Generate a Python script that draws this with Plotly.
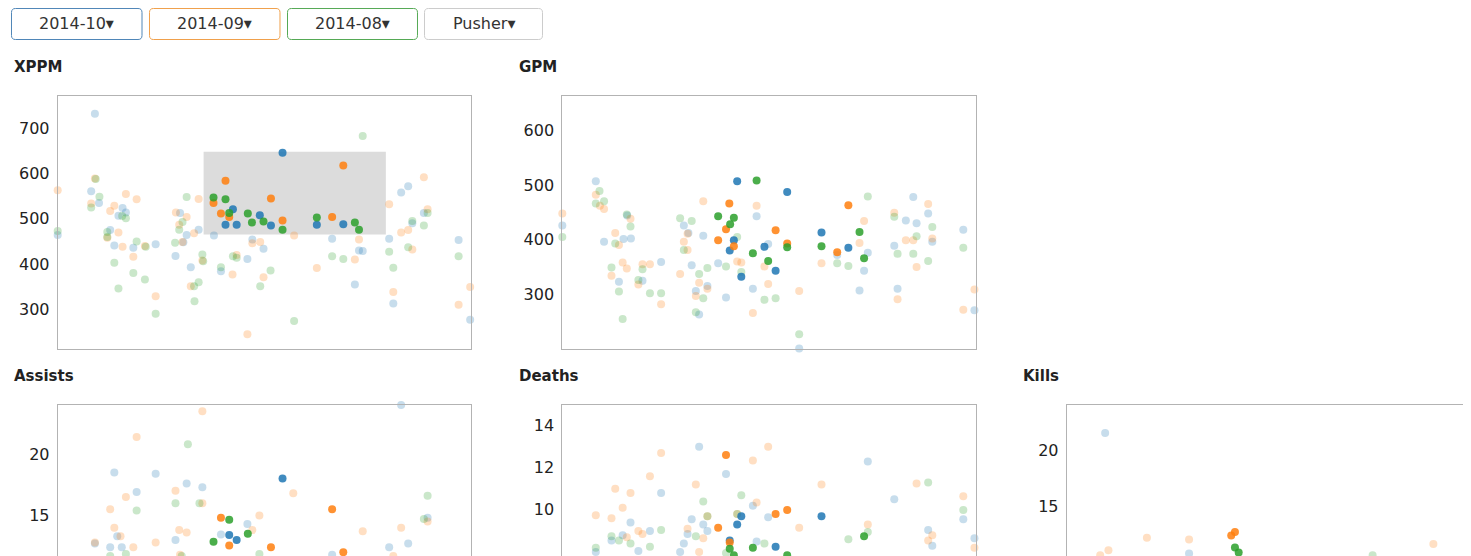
import plotly.graph_objects as go

# window size and the page's default body margin
WIN_W, WIN_H = 1471, 556
OFF = 8
W, H = WIN_W - OFF, WIN_H - OFF

MONTHS = ["2014-10", "2014-09", "2014-08"]
MONTH_COLORS = {"2014-10": "#1f77b4", "2014-09": "#ff7f0e", "2014-08": "#2ca02c"}
BUTTON_LABELS = ["2014-10", "2014-09", "2014-08", "Pusher"]

# ---------------- XPPM ----------------
xppm_oct_bg_x = [9.0, 0.0, 8.1, 10.0, 15.7, 16.5, 14.7, 12.7, 13.7, 18.3, 23.7, 29.6, 31.2, 34.1, 30.4, 28.5, 32.2, 39.5, 37.8, 45.9, 47.1, 49.8, 57.2, 66.4, 72.9, 73.8, 71.9, 80.2, 81.2, 83.1, 84.8, 85.8, 88.6, 97.0, 99.8]
xppm_oct_bg_y = [732, 464, 561, 535, 524, 514, 507, 475, 441, 436, 444, 513, 464, 476, 448, 418, 393, 384, 463, 411, 454, 434, 212, 456, 430, 429, 355, 456, 313, 558, 572, 490, 513, 453, 277]
xppm_sep_bg_x = [73.8, 0.0, 9.0, 8.1, 16.5, 19.1, 13.7, 12.7, 14.7, 12.0, 15.7, 21.1, 18.3, 23.7, 28.6, 31.2, 29.4, 34.1, 33.0, 30.2, 35.0, 32.2, 42.3, 43.3, 47.1, 49.0, 49.8, 45.9, 57.2, 62.7, 71.9, 72.9, 80.2, 81.2, 83.1, 84.8, 85.8, 88.6, 89.5, 99.8, 97.0]
xppm_sep_bg_y = [772, 563, 589, 534, 555, 543, 529, 517, 470, 458, 438, 440, 416, 329, 514, 504, 487, 544, 468, 449, 408, 351, 377, 420, 446, 449, 371, 245, 463, 391, 410, 454, 532, 338, 470, 475, 432, 592, 521, 349, 310]
xppm_aug_bg_x = [73.8, 0.0, 9.2, 10.1, 8.1, 15.6, 16.5, 12.0, 12.0, 19.1, 21.3, 13.7, 18.3, 21.1, 14.7, 23.7, 30.2, 29.4, 31.2, 28.4, 35.0, 35.2, 33.0, 34.1, 33.1, 39.5, 43.3, 42.4, 51.5, 49.0, 57.2, 66.4, 69.1, 80.2, 81.2, 85.8, 84.8, 89.5, 88.6, 97.0]
xppm_aug_bg_y = [683, 473, 588, 549, 525, 506, 501, 471, 460, 450, 438, 403, 380, 366, 346, 290, 493, 476, 548, 447, 421, 406, 351, 360, 318, 393, 414, 417, 386, 351, 274, 417, 411, 427, 392, 495, 437, 513, 485, 417]
xppm_oct_hi_x = [54.4, 42.4, 48.9, 40.6, 43.3, 51.6, 62.7, 69.1]
xppm_oct_hi_y = [646, 521, 508, 487, 487, 485, 487, 488]
xppm_sep_hi_x = [69.1, 40.6, 51.6, 37.7, 39.5, 41.5, 54.4, 66.4]
xppm_sep_hi_y = [618, 584, 545, 535, 512, 504, 496, 504]
xppm_aug_hi_x = [37.7, 40.6, 41.5, 46.0, 47.0, 49.8, 54.4, 62.7, 71.9, 72.9]
xppm_aug_hi_y = [547, 543, 513, 512, 492, 494, 476, 503, 492, 476]
xppm_brush_x = [35.3, 79.4]
xppm_brush_y = [465.3, 648.3]

# ---------------- GPM ----------------
gpm_oct_bg_x = [9.1, 0.0, 8.1, 10.1, 15.7, 14.8, 16.6, 23.9, 13.7, 19.4, 29.4, 30.5, 34.1, 31.3, 35.1, 32.3, 33.1, 37.7, 39.6, 47.0, 46.1, 49.8, 57.3, 66.5, 73.9, 73.0, 71.9, 80.3, 81.1, 83.1, 84.9, 85.7, 88.5, 89.5, 97.0, 99.7]
gpm_oct_bg_y = [663, 426, 507, 396, 444, 401, 402, 359, 323, 325, 426, 412, 407, 353, 315, 306, 263, 357, 294, 443, 310, 392, 201, 372, 376, 343, 307, 389, 310, 435, 478, 430, 448, 396, 418, 271]
gpm_sep_bg_x = [0.0, 8.1, 9.1, 10.1, 16.5, 12.8, 13.7, 14.6, 15.6, 19.4, 21.2, 11.9, 18.4, 23.9, 30.3, 29.4, 30.3, 34.1, 28.5, 33.1, 35.1, 32.3, 42.3, 43.3, 47.0, 46.1, 48.9, 49.8, 57.3, 62.7, 71.9, 73.0, 80.3, 81.1, 83.1, 84.9, 85.7, 88.5, 89.5, 99.7, 97.0]
gpm_sep_bg_y = [448, 482, 462, 456, 438, 412, 390, 358, 347, 355, 355, 334, 318, 282, 411, 396, 381, 470, 337, 321, 310, 297, 360, 358, 462, 266, 351, 319, 306, 357, 394, 434, 449, 291, 399, 399, 350, 465, 402, 309, 272]
gpm_aug_bg_x = [0.0, 9.0, 8.1, 10.1, 15.6, 16.5, 12.8, 11.9, 19.4, 18.4, 13.7, 21.2, 23.9, 14.6, 28.5, 31.3, 29.4, 33.1, 35.1, 34.1, 32.3, 39.6, 42.3, 43.3, 48.9, 51.6, 57.3, 66.5, 69.2, 73.9, 80.3, 81.1, 85.7, 84.9, 89.5, 88.5, 97.0]
gpm_aug_bg_y = [405, 489, 466, 470, 446, 424, 393, 349, 346, 326, 305, 302, 302, 255, 439, 434, 381, 337, 348, 293, 267, 351, 405, 341, 290, 293, 227, 357, 352, 479, 442, 374, 406, 374, 423, 361, 385]
gpm_oct_hi_x = [42.3, 54.4, 62.7, 41.5, 40.5, 48.9, 69.2, 51.6, 43.3]
gpm_oct_hi_y = [507, 487, 413, 399, 380, 387, 385, 343, 332]
gpm_sep_hi_x = [40.4, 69.2, 39.6, 51.6, 37.7, 41.5, 54.4, 66.5]
gpm_sep_hi_y = [466, 463, 419, 417, 399, 388, 393, 377]
gpm_aug_hi_x = [47.0, 37.7, 41.5, 40.6, 71.9, 54.4, 62.7, 46.1, 73.0, 49.8]
gpm_aug_hi_y = [508, 443, 440, 428, 414, 386, 388, 375, 366, 361]

# ---------------- Assists ----------------
ast_oct_bg_x = [83.1, 13.7, 23.7, 31.2, 35.0, 19.1, 39.5, 45.9, 89.5, 14.4, 9.0, 12.7, 15.5, 28.5, 66.4, 80.2, 84.8]
ast_oct_bg_y = [24.0, 18.5, 18.4, 17.6, 17.3, 16.9, 13.45, 14.3, 14.8, 13.3, 12.7, 12.4, 12.4, 13.0, 11.8, 12.4, 12.7]
ast_sep_bg_x = [35.0, 19.1, 28.5, 16.5, 57.0, 35.0, 12.7, 48.8, 13.7, 15.2, 29.4, 31.2, 47.1, 89.5, 83.1, 73.8, 9.0, 18.3, 23.7, 29.6, 81.2]
ast_sep_bg_y = [23.5, 21.4, 17.0, 16.5, 16.8, 16.0, 15.5, 15.0, 14.0, 13.3, 13.8, 13.6, 13.8, 14.5, 14.0, 13.7, 12.8, 12.4, 12.8, 11.8, 11.7]
ast_aug_bg_x = [31.5, 28.5, 34.3, 19.1, 89.5, 88.6, 16.5, 12.7, 30.0, 48.8]
ast_aug_bg_y = [20.8, 16.0, 16.0, 15.4, 16.6, 14.7, 11.85, 11.7, 11.7, 11.85]
ast_oct_hi_x = [54.4, 41.5, 43.3]
ast_oct_hi_y = [18.0, 13.4, 13.0]
ast_sep_hi_x = [66.4, 39.5, 41.5, 51.6, 69.1]
ast_sep_hi_y = [15.5, 14.8, 12.55, 12.4, 12.0]
ast_aug_hi_x = [41.5, 46.0, 37.7]
ast_aug_hi_y = [14.65, 13.5, 12.85]

# ---------------- Deaths ----------------
dth_oct_bg_x = [83.1, 33.1, 73.9, 39.6, 23.9, 46.1, 80.3, 16.5, 31.3, 34.1, 49.8, 97.0, 21.2, 30.3, 35.1, 88.5, 11.9, 14.6, 89.5, 99.7, 8.1, 18.4, 29.4, 47.0, 28.5]
dth_oct_bg_y = [15.0, 13.0, 12.3, 11.7, 10.8, 10.2, 10.5, 9.4, 9.55, 9.3, 9.65, 9.55, 9.0, 8.85, 9.0, 9.05, 8.55, 8.8, 8.3, 8.65, 8.0, 8.05, 8.4, 8.5, 8.0]
dth_sep_bg_x = [49.8, 23.9, 46.1, 21.2, 32.3, 62.7, 12.8, 16.5, 85.7, 97.0, 14.6, 47.0, 8.1, 11.9, 35.1, 42.3, 18.4, 19.4, 30.3, 34.1, 57.3, 73.9, 15.6, 89.5, 88.5, 99.7, 33.1, 0.2]
dth_sep_bg_y = [13.0, 12.7, 12.35, 11.6, 11.2, 11.2, 11.0, 10.8, 11.25, 10.65, 10.1, 10.35, 9.75, 9.6, 9.7, 9.8, 9.0, 8.85, 9.1, 8.65, 9.15, 9.3, 8.7, 8.8, 8.55, 8.2, 8.0, 7.8]
dth_aug_bg_x = [88.5, 34.1, 43.3, 35.1, 42.3, 97.0, 23.9, 32.3, 73.9, 11.9, 13.7, 69.2, 8.1, 16.5, 21.2, 48.9, 39.6]
dth_aug_bg_y = [11.3, 10.4, 10.7, 9.7, 9.8, 10.0, 9.05, 8.75, 8.95, 8.75, 8.55, 8.6, 8.2, 8.4, 8.25, 8.4, 7.95]
dth_oct_hi_x = [62.7, 42.3, 40.5, 51.6, 43.3]
dth_oct_hi_y = [9.7, 9.3, 8.55, 8.25, 9.7]
dth_sep_hi_x = [39.6, 51.6, 54.4, 37.7, 40.5]
dth_sep_hi_y = [12.6, 9.8, 10.0, 9.15, 8.45]
dth_aug_hi_x = [73.0, 40.5, 46.1, 41.5, 54.4]
dth_aug_hi_y = [8.75, 8.15, 8.2, 7.85, 7.85]

# ---------------- Kills ----------------
kil_oct_bg_x = [9.3, 83.1, 29.6]
kil_oct_bg_y = [21.5, 24.0, 10.85]
kil_sep_bg_x = [19.4, 29.6, 10.1, 8.1, 88.7]
kil_sep_bg_y = [12.26, 12.1, 11.15, 10.7, 11.7]
kil_aug_bg_x = [74.0]
kil_aug_bg_y = [10.7]
kil_oct_hi_x = []
kil_oct_hi_y = []
kil_sep_hi_x = [40.7, 39.8]
kil_sep_hi_y = [12.75, 12.45]
kil_aug_hi_x = [40.7, 41.6]
kil_aug_hi_y = [11.4, 10.95]

# tick values per panel
xppm_ticks = [300, 400, 500, 600, 700]
gpm_ticks = [300, 400, 500, 600]
ast_ticks = [15, 20]
dth_ticks = [8, 10, 12, 14]
kil_ticks = [15, 20]

PANELS = [
    dict(title="XPPM", ticks=xppm_ticks, yr=[212.2, 771.5], xr=[0, 100], tx=12,
         px=(57.7, 471.0), py=(96, 349), bottom=False, right=True,
         bg=[(xppm_oct_bg_x, xppm_oct_bg_y), (xppm_sep_bg_x, xppm_sep_bg_y), (xppm_aug_bg_x, xppm_aug_bg_y)],
         hi=[(xppm_oct_hi_x, xppm_oct_hi_y), (xppm_sep_hi_x, xppm_sep_hi_y), (xppm_aug_hi_x, xppm_aug_hi_y)]),
    dict(title="GPM", ticks=gpm_ticks, yr=[200.0, 662.7], xr=[0, 100], tx=517,
         px=(562.3, 975.7), py=(96, 349), bottom=False, right=True,
         bg=[(gpm_oct_bg_x, gpm_oct_bg_y), (gpm_sep_bg_x, gpm_sep_bg_y), (gpm_aug_bg_x, gpm_aug_bg_y)],
         hi=[(gpm_oct_hi_x, gpm_oct_hi_y), (gpm_sep_hi_x, gpm_sep_hi_y), (gpm_aug_hi_x, gpm_aug_hi_y)]),
    dict(title="Assists", ticks=ast_ticks, yr=[11.69, 24.0], xr=[0, 100], tx=12,
         px=(57.7, 471.0), py=(405, 556), bottom=True, right=True,
         bg=[(ast_oct_bg_x, ast_oct_bg_y), (ast_sep_bg_x, ast_sep_bg_y), (ast_aug_bg_x, ast_aug_bg_y)],
         hi=[(ast_oct_hi_x, ast_oct_hi_y), (ast_sep_hi_x, ast_sep_hi_y), (ast_aug_hi_x, ast_aug_hi_y)]),
    dict(title="Deaths", ticks=dth_ticks, yr=[7.81, 14.98], xr=[0, 100], tx=517,
         px=(562.3, 975.7), py=(405, 556), bottom=True, right=True,
         bg=[(dth_oct_bg_x, dth_oct_bg_y), (dth_sep_bg_x, dth_sep_bg_y), (dth_aug_bg_x, dth_aug_bg_y)],
         hi=[(dth_oct_hi_x, dth_oct_hi_y), (dth_sep_hi_x, dth_sep_hi_y), (dth_aug_hi_x, dth_aug_hi_y)]),
    dict(title="Kills", ticks=kil_ticks, yr=[10.64, 23.97], xr=[0, 97.8], tx=1021,
         px=(1066.7, 1471.0), py=(405, 556), bottom=True, right=False,
         bg=[(kil_oct_bg_x, kil_oct_bg_y), (kil_sep_bg_x, kil_sep_bg_y), (kil_aug_bg_x, kil_aug_bg_y)],
         hi=[(kil_oct_hi_x, kil_oct_hi_y), (kil_sep_hi_x, kil_sep_hi_y), (kil_aug_hi_x, kil_aug_hi_y)]),
]

FONT = "DejaVu Sans, Arial, sans-serif"
FRAME = "#b3b3b3"


def hex_rgba(h, a):
    h = h.lstrip("#")
    return "rgba(%d,%d,%d,%.2f)" % (int(h[0:2], 16), int(h[2:4], 16), int(h[4:6], 16), a)


def fx(px):
    return min(1.0, max(0.0, (px - OFF) / W))


def fy(py):
    return min(1.0, max(0.0, 1 - (py - OFF) / H))


fig = go.Figure()
layout = dict(width=W, height=H, margin=dict(l=0, r=0, t=0, b=0), autosize=False,
              paper_bgcolor="white", plot_bgcolor="white", showlegend=False,
              font=dict(family=FONT, color="#222"))
shapes, annotations = [], []

for i, p in enumerate(PANELS, start=1):
    xa = "xaxis" if i == 1 else "xaxis%d" % i
    ya = "yaxis" if i == 1 else "yaxis%d" % i
    xr_ = "x" if i == 1 else "x%d" % i
    yr_ = "y" if i == 1 else "y%d" % i
    layout[xa] = dict(domain=[fx(p["px"][0]), fx(p["px"][1])], range=p["xr"], anchor=yr_,
                      showticklabels=False, showgrid=False, zeroline=False, ticks="",
                      showline=True, linecolor=FRAME, linewidth=1,
                      mirror=not p["bottom"], side="top" if p["bottom"] else "bottom",
                      fixedrange=True)
    layout[ya] = dict(domain=[fy(p["py"][1]), fy(p["py"][0])], range=p["yr"], anchor=xr_,
                      tickvals=p["ticks"], ticktext=[str(t) for t in p["ticks"]],
                      showgrid=False, zeroline=False, ticks="", showline=True,
                      linecolor=FRAME, linewidth=1, mirror=p["right"],
                      tickfont=dict(size=16, color="#222", family=FONT),
                      ticklabelstandoff=4, fixedrange=True)
    annotations.append(dict(text="<b>%s</b>" % p["title"], xref="paper", yref="paper",
                            x=fx(p["tx"]), y=fy(p["py"][0] - 29), xanchor="left", yanchor="middle",
                            showarrow=False, font=dict(size=15, color="#222", family=FONT)))
    for state, alpha in (("bg", 0.25), ("hi", 0.85)):
        for m, (xs, ys) in zip(MONTHS, p[state]):
            fig.add_trace(go.Scatter(x=xs, y=ys, mode="markers", xaxis=xr_, yaxis=yr_,
                                     marker=dict(size=8, color=hex_rgba(MONTH_COLORS[m], alpha),
                                                 line=dict(width=0)),
                                     cliponaxis=False, hoverinfo="skip", name=m))

# brush in XPPM
shapes.append(dict(type="rect", xref="x", yref="y", x0=xppm_brush_x[0], x1=xppm_brush_x[1],
                   y0=xppm_brush_y[0], y1=xppm_brush_y[1], fillcolor="#dcdcdc",
                   line=dict(width=0), layer="below"))


def rounded(x0, y0, x1, y1, r):
    X = lambda v: "%.6f" % fx(v)
    Y = lambda v: "%.6f" % fy(v)
    return ("M %s,%s L %s,%s Q %s,%s %s,%s L %s,%s Q %s,%s %s,%s L %s,%s Q %s,%s %s,%s "
            "L %s,%s Q %s,%s %s,%s Z") % (
        X(x0 + r), Y(y0), X(x1 - r), Y(y0), X(x1), Y(y0), X(x1), Y(y0 + r),
        X(x1), Y(y1 - r), X(x1), Y(y1), X(x1 - r), Y(y1),
        X(x0 + r), Y(y1), X(x0), Y(y1), X(x0), Y(y1 - r),
        X(x0), Y(y0 + r), X(x0), Y(y0), X(x0 + r), Y(y0))


button_px = [(11.5, 142), (149.5, 280), (287.5, 417.5), (424.5, 542.5)]
button_borders = ["#4f86b8", "#f0a04b", "#55a955", "#cccccc"]
for (bx0, bx1), lab, col in zip(button_px, BUTTON_LABELS, button_borders):
    shapes.append(dict(type="path", path=rounded(bx0, 8.5, bx1, 39.5, 4), xref="paper", yref="paper",
                       line=dict(color=col, width=1), fillcolor="white", layer="above"))
    annotations.append(dict(text=lab + "▾", xref="paper", yref="paper", x=fx((bx0 + bx1) / 2),
                            y=fy(24), xanchor="center", yanchor="middle", showarrow=False,
                            font=dict(size=16, color="#333", family=FONT)))

layout["shapes"] = shapes
layout["annotations"] = annotations
fig.update_layout(**layout)
fig.write_html("out.html", config={"displayModeBar": False})
